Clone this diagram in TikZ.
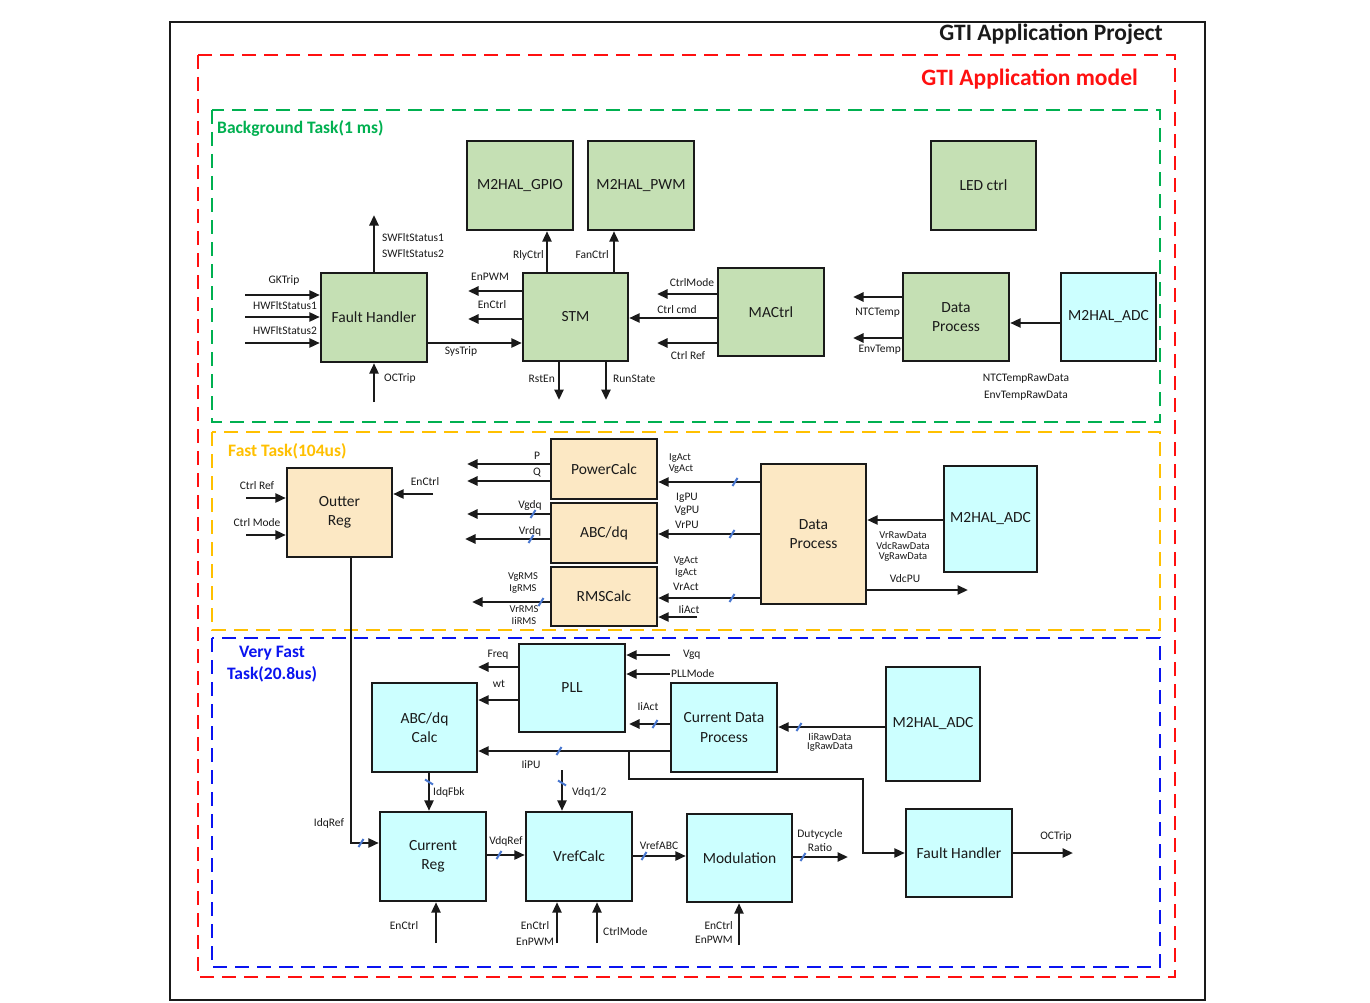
\documentclass[tikz,border=0pt]{standalone}
\usepackage{fontspec}
\setmainfont{Carlito}
\usetikzlibrary{arrows.meta}
\definecolor{bggreen}{HTML}{C5E0B4}
\definecolor{fastfill}{HTML}{FCE8C4}
\definecolor{vfcyan}{HTML}{CCFFFF}
\definecolor{grnline}{HTML}{00B050}
\definecolor{ylwline}{HTML}{FFC000}
\definecolor{bluline}{HTML}{0A14F0}
\definecolor{redline}{HTML}{FF1010}
\definecolor{busmark}{HTML}{4A78D0}
\definecolor{ink}{HTML}{1A1A1A}

\begin{document}
\begin{tikzpicture}[x=1pt, y=-1pt,
  blk/.style={draw=ink, line width=2.3pt, align=center, inner sep=0pt,
    font=\fontsize{15.5}{19.5}\selectfont, text=ink},
  gbk/.style={blk, fill=bggreen},
  fbk/.style={blk, fill=fastfill},
  cbk/.style={blk, fill=vfcyan},
  boxsize/.style 2 args={minimum width=#1pt, minimum height=#2pt},
  lbl/.style={inner sep=0pt, font=\fontsize{11.5}{13}\selectfont, text=ink},
  tight/.style={lbl, font=\fontsize{10.5}{12}\selectfont},
  arr/.style={draw=ink, line width=2.4pt, -{Triangle[length=10.5pt,width=9pt]}},
  frame/.style={line width=2pt, dash pattern=on 14pt off 8pt},
  ttl/.style={inner sep=0pt, font=\bfseries\fontsize{17.5}{21}\selectfont},
  bus/.pic={\draw[busmark, line width=2pt] (-2.5,4) -- (2.5,-4);},
  vbus/.pic={\draw[busmark, line width=2pt] (-4,-2.5) -- (4,2.5);},
]
\useasboundingbox (0,0) rectangle (1370,1003);
\fill[white] (0,0) rectangle (1370,1003);

% ---------- frames ----------
\draw[ink, line width=2pt] (170,22) rectangle (1205,1000);
\draw[frame, redline] (198,55) rectangle (1175,977);
\draw[frame, grnline] (212,110) rectangle (1160,422);
\draw[frame, ylwline] (212,432) rectangle (1160,630);
\draw[frame, bluline] (212,638) rectangle (1160,967);

\node[ttl, font=\bfseries\fontsize{23.5}{26}\selectfont, text=ink, anchor=east] (proj) at (1163,34) {GTI Application Project};
\node[ttl, font=\bfseries\fontsize{23.5}{26}\selectfont, text=redline, anchor=east] (model) at (1138,79) {GTI Application model};
\node[ttl, text=grnline, anchor=west] (bgt) at (217,128) {Background Task(1 ms)};
\node[ttl, text=ylwline, anchor=west] (ft) at (228,451) {Fast Task(104us)};
\node[ttl, text=bluline] (vft1) at (272,653) {Very Fast};
\node[ttl, text=bluline] (vft2) at (272,674) {Task(20.8us)};

% ---------- background task ----------
\node[gbk, boxsize={106}{89}] (gpio) at (520,185.5) {M2HAL\_GPIO};
\node[gbk, boxsize={106}{89}] (pwm) at (641,185.5) {M2HAL\_PWM};
\node[gbk, boxsize={105}{89}] (led) at (983.5,185.5) {LED ctrl};
\node[gbk, boxsize={106}{89}] (fh) at (374,317.5) {Fault Handler};
\node[gbk, boxsize={105}{88}] (stm) at (575.5,317) {STM};
\node[gbk, boxsize={106}{88}] (mac) at (771,312) {MACtrl};
\node[gbk, boxsize={106}{88}] (dp) at (956,317) {Data\\Process};
\node[cbk, boxsize={95}{88}] (adcA) at (1108.5,317) {M2HAL\_ADC};

\coordinate (fhOut) at (374,215);
\coordinate (gkIn) at (245,295);
\coordinate (hw1In) at (245,317);
\coordinate (hw2In) at (245,343);
\coordinate (ocIn) at (374,402);
\coordinate (enpwmOut) at (468,291);
\coordinate (enctrlOut) at (468,319);
\coordinate (rstOut) at (559,400);
\coordinate (runOut) at (606,400);
\coordinate (cmodeEnd) at (657,294);
\coordinate (crefEnd) at (657,343);
\coordinate (ntcOut) at (853,297);
\coordinate (envOut) at (853,338);

\draw[arr] (fh.north) -- (fhOut);
\draw[arr] (gkIn) -- (gkIn -| fh.west);
\draw[arr] (hw1In) -- (hw1In -| fh.west);
\draw[arr] (hw2In) -- (hw2In -| fh.west);
\draw[arr] (ocIn) -- (fh.south);
\draw[arr] (fh.east |- 0,343) -- (stm.west |- 0,343);
\draw[arr] (stm.north -| 547,0) -- (gpio.south -| 547,0);
\draw[arr] (stm.north -| 614,0) -- (pwm.south -| 614,0);
\draw[arr] (stm.west |- enpwmOut) -- (enpwmOut);
\draw[arr] (stm.west |- enctrlOut) -- (enctrlOut);
\draw[arr] (stm.south -| rstOut) -- (rstOut);
\draw[arr] (stm.south -| runOut) -- (runOut);
\draw[arr] (mac.west |- 0,318) -- (stm.east |- 0,318);
\draw[arr] (mac.west |- cmodeEnd) -- (cmodeEnd);
\draw[arr] (mac.west |- crefEnd) -- (crefEnd);
\draw[arr] (dp.west |- ntcOut) -- (ntcOut);
\draw[arr] (dp.west |- envOut) -- (envOut);
\draw[arr] (adcA.west |- 0,323) -- (dp.east |- 0,323);

\node[lbl, anchor=west] (lsw1) at (382,238) {SWFltStatus1};
\node[lbl, anchor=west] (lsw2) at (382,254) {SWFltStatus2};
\node[lbl] (lgk) at (284,280) {GKTrip};
\node[lbl] (lhw1) at (285,306) {HWFltStatus1};
\node[lbl] (lhw2) at (285,331) {HWFltStatus2};
\node[lbl, anchor=west] (loc) at (384,378) {OCTrip};
\node[lbl] (lsys) at (461,351) {SysTrip};
\node[lbl, anchor=east] (lrly) at (544,255) {RlyCtrl};
\node[lbl, anchor=east] (lfan) at (609,255) {FanCtrl};
\node[lbl] (lenpwm) at (490,277) {EnPWM};
\node[lbl] (lenctrl) at (492,305) {EnCtrl};
\node[lbl, anchor=east] (lrst) at (555,379) {RstEn};
\node[lbl, anchor=west] (lrun) at (613,379) {RunState};
\node[lbl] (lcmd) at (677,310) {Ctrl cmd};
\node[lbl] (lcmode) at (692,283) {CtrlMode};
\node[lbl] (lcref) at (688,356) {Ctrl Ref};
\node[lbl, anchor=east] (lntc) at (900,313) {NTCTemp};
\node[lbl, anchor=east] (lenv) at (901,350) {EnvTemp};
\node[lbl] (lntcraw) at (1026,379) {NTCTempRawData};
\node[lbl] (lenvraw) at (1026,396) {EnvTempRawData};

% ---------- fast task ----------
\node[fbk, boxsize={105}{89}] (oreg) at (339.5,512.5) {Outter\\Reg};
\node[fbk, boxsize={106}{60}] (pcalc) at (604,469) {PowerCalc};
\node[fbk, boxsize={106}{60}] (abcdq) at (604,533) {ABC/dq};
\node[fbk, boxsize={106}{59}] (rms) at (604,596.5) {RMSCalc};
\node[fbk, boxsize={105}{140}] (fdp) at (813.5,534) {Data\\Process};
\node[cbk, boxsize={93}{106}] (adcB) at (990.5,519) {M2HAL\_ADC};

\coordinate (crefIn) at (246,498);
\coordinate (cmodeIn) at (246,535);
\coordinate (enIn) at (433,494);
\coordinate (pOut) at (467,464);
\coordinate (qOut) at (467,481);
\coordinate (vgdqOut) at (467,514);
\coordinate (vrdqOut) at (465,539);
\coordinate (rmsOut) at (472,602);
\coordinate (iiactIn) at (697,617);
\coordinate (vdcOut) at (968,590);

\draw[arr] (crefIn) -- (crefIn -| oreg.west);
\draw[arr] (cmodeIn) -- (cmodeIn -| oreg.west);
\draw[arr] (enIn) -- (enIn -| oreg.east);
\draw[arr] (pcalc.west |- pOut) -- (pOut);
\draw[arr] (pcalc.west |- qOut) -- (qOut);
\draw[arr] (abcdq.west |- vgdqOut) -- (vgdqOut);
\draw[arr] (abcdq.west |- vrdqOut) -- (vrdqOut);
\draw[arr] (rms.west |- rmsOut) -- (rmsOut);
\draw[arr] (fdp.west |- 0,482) -- (pcalc.east |- 0,482);
\draw[arr] (fdp.west |- 0,534) -- (abcdq.east |- 0,534);
\draw[arr] (fdp.west |- 0,598) -- (rms.east |- 0,598);
\draw[arr] (iiactIn) -- (iiactIn -| rms.east);
\draw[arr] (adcB.west |- 0,520) -- (fdp.east |- 0,520);
\draw[arr] (fdp.east |- vdcOut) -- (vdcOut);

\pic at (533,514) {bus};
\pic at (531,539) {bus};
\pic at (541,602) {bus};
\pic at (735,482) {bus};
\pic at (732,534) {bus};
\pic at (732,598) {bus};

\node[lbl] (lcrefF) at (257,486) {Ctrl Ref};
\node[lbl] (lcmodeF) at (257,523) {Ctrl Mode};
\node[lbl] (lenF) at (425,482) {EnCtrl};
\node[lbl] (lp) at (537,456) {P};
\node[lbl] (lq) at (537,473) {Q};
\node[lbl] (lvgdq) at (530,505) {Vgdq};
\node[lbl] (lvrdq) at (530,531) {Vrdq};
\node[tight] (lvgrms) at (523,577) {VgRMS};
\node[tight] (ligrms) at (523,588.5) {IgRMS};
\node[tight] (lvrrms) at (524,609.5) {VrRMS};
\node[tight] (liirms) at (524,620.5) {IiRMS};
\node[tight] (ligact1) at (680,458.5) {IgAct};
\node[tight] (lvgact1) at (681,469.5) {VgAct};
\node[lbl] (ligpu) at (687,498) {IgPU};
\node[lbl] (lvgpu) at (687,511) {VgPU};
\node[lbl] (lvrpu) at (687,525) {VrPU};
\node[tight] (lvgact2) at (686,561.5) {VgAct};
\node[tight] (ligact2) at (686,573) {IgAct};
\node[lbl] (lvract) at (686,587) {VrAct};
\node[lbl] (liiactF) at (689,610) {IiAct};
\node[tight] (lvrraw) at (903,535) {VrRawData};
\node[tight] (lvdcraw) at (903,546) {VdcRawData};
\node[tight] (lvgraw) at (903,557) {VgRawData};
\node[lbl] (lvdcpu) at (905,579) {VdcPU};

% ---------- very fast task ----------
\node[cbk, boxsize={106}{88}] (pll) at (572,688) {PLL};
\node[cbk, boxsize={105}{89}] (abcc) at (424.5,727.5) {ABC/dq\\Calc};
\node[cbk, boxsize={106}{89}] (cdp) at (724,727.5) {Current Data\\Process};
\node[cbk, boxsize={94}{114}] (adcC) at (933,724) {M2HAL\_ADC};
\node[cbk, boxsize={106}{89}] (creg) at (433,856.5) {Current\\Reg};
\node[cbk, boxsize={106}{89}] (vref) at (579,856.5) {VrefCalc};
\node[cbk, boxsize={105}{88}] (mod) at (739.5,858) {Modulation};
\node[cbk, boxsize={106}{88}] (fhB) at (959,853) {Fault Handler};

\coordinate (freqOut) at (478,667);
\coordinate (vgqIn) at (670,655);
\coordinate (pllmIn) at (670,674);
\coordinate (iiactOut) at (629,724);
\coordinate (tapA) at (629,751);
\coordinate (tapB) at (629,779);
\coordinate (tapC) at (863,779);
\coordinate (tapD) at (863,853);
\coordinate (vdqIn) at (562,770);
\coordinate (idqTop) at (351,843);
\coordinate (dutyOut) at (848,857);
\coordinate (ocOut) at (1073,853);
\coordinate (encA) at (436,943);
\coordinate (encB) at (557,943);
\coordinate (cmodeB) at (597,943);
\coordinate (encC) at (739,945);

\draw[arr] (pll.west |- freqOut) -- (freqOut);
\draw[arr] (pll.west |- 0,700) -- (abcc.east |- 0,700);
\draw[arr] (vgqIn) -- (vgqIn -| pll.east);
\draw[arr] (pllmIn) -- (pllmIn -| pll.east);
\draw[arr] (cdp.west |- iiactOut) -- (iiactOut);
\draw[arr] (cdp.west |- tapA) -- (abcc.east |- tapA);
\draw[arr] (tapA) -- (tapB) -- (tapC) -- (tapD) -- (fhB.west);
\draw[arr] (vdqIn) -- (vdqIn |- vref.north);
\draw[arr] (abcc.south -| 429,0) -- (creg.north -| 429,0);
\draw[arr] (adcC.west |- 0,727) -- (cdp.east |- 0,727);
\draw[arr] (oreg.south -| idqTop) -- (idqTop) -- (creg.west |- idqTop);
\draw[arr] (creg.east |- 0,855) -- (vref.west |- 0,855);
\draw[arr] (vref.east |- 0,856) -- (mod.west |- 0,856);
\draw[arr] (mod.east |- dutyOut) -- (dutyOut);
\draw[arr] (fhB.east) -- (ocOut);
\draw[arr] (encA) -- (encA |- creg.south);
\draw[arr] (encB) -- (encB |- vref.south);
\draw[arr] (cmodeB) -- (cmodeB |- vref.south);
\draw[arr] (encC) -- (encC |- mod.south);

\pic at (655,724) {bus};
\pic at (559,751) {bus};
\pic at (799,727) {bus};
\pic at (361,843) {bus};
\pic at (499,855) {bus};
\pic at (644,856) {bus};
\pic at (803,857) {bus};
\pic at (429,782) {vbus};
\pic at (562,783) {vbus};

\node[lbl] (lfreq) at (498,655) {Freq};
\node[lbl] (lwt) at (499,684) {wt};
\node[lbl, anchor=west] (lvgq) at (683,655) {Vgq};
\node[lbl, anchor=west] (lpllm) at (671,674) {PLLMode};
\node[lbl] (liiactV) at (648,707) {IiAct};
\node[lbl] (liipu) at (531,765) {IiPU};
\node[lbl, anchor=west] (lvdq) at (572,792) {Vdq1/2};
\node[lbl, anchor=west] (lidqfbk) at (433,792) {IdqFbk};
\node[tight] (liiraw) at (830,736.5) {IiRawData};
\node[tight] (ligraw) at (830,747.5) {IgRawData};
\node[lbl] (lidqref) at (329,823) {IdqRef};
\node[lbl] (lvdqref) at (506,841) {VdqRef};
\node[lbl] (lvrefabc) at (659,846) {VrefABC};
\node[lbl] (lduty) at (820,834) {Dutycycle};
\node[lbl] (lratio) at (820,848) {Ratio};
\node[lbl] (locV) at (1056,836) {OCTrip};
\node[lbl] (lencA) at (404,926) {EnCtrl};
\node[lbl] (lencB) at (535,926) {EnCtrl};
\node[lbl] (lenpB) at (535,942) {EnPWM};
\node[lbl, anchor=west] (lcmodeB) at (603,932) {CtrlMode};
\node[lbl, anchor=east] (lencC) at (733,926) {EnCtrl};
\node[lbl, anchor=east] (lenpC) at (733,940) {EnPWM};
\end{tikzpicture}
\end{document}
